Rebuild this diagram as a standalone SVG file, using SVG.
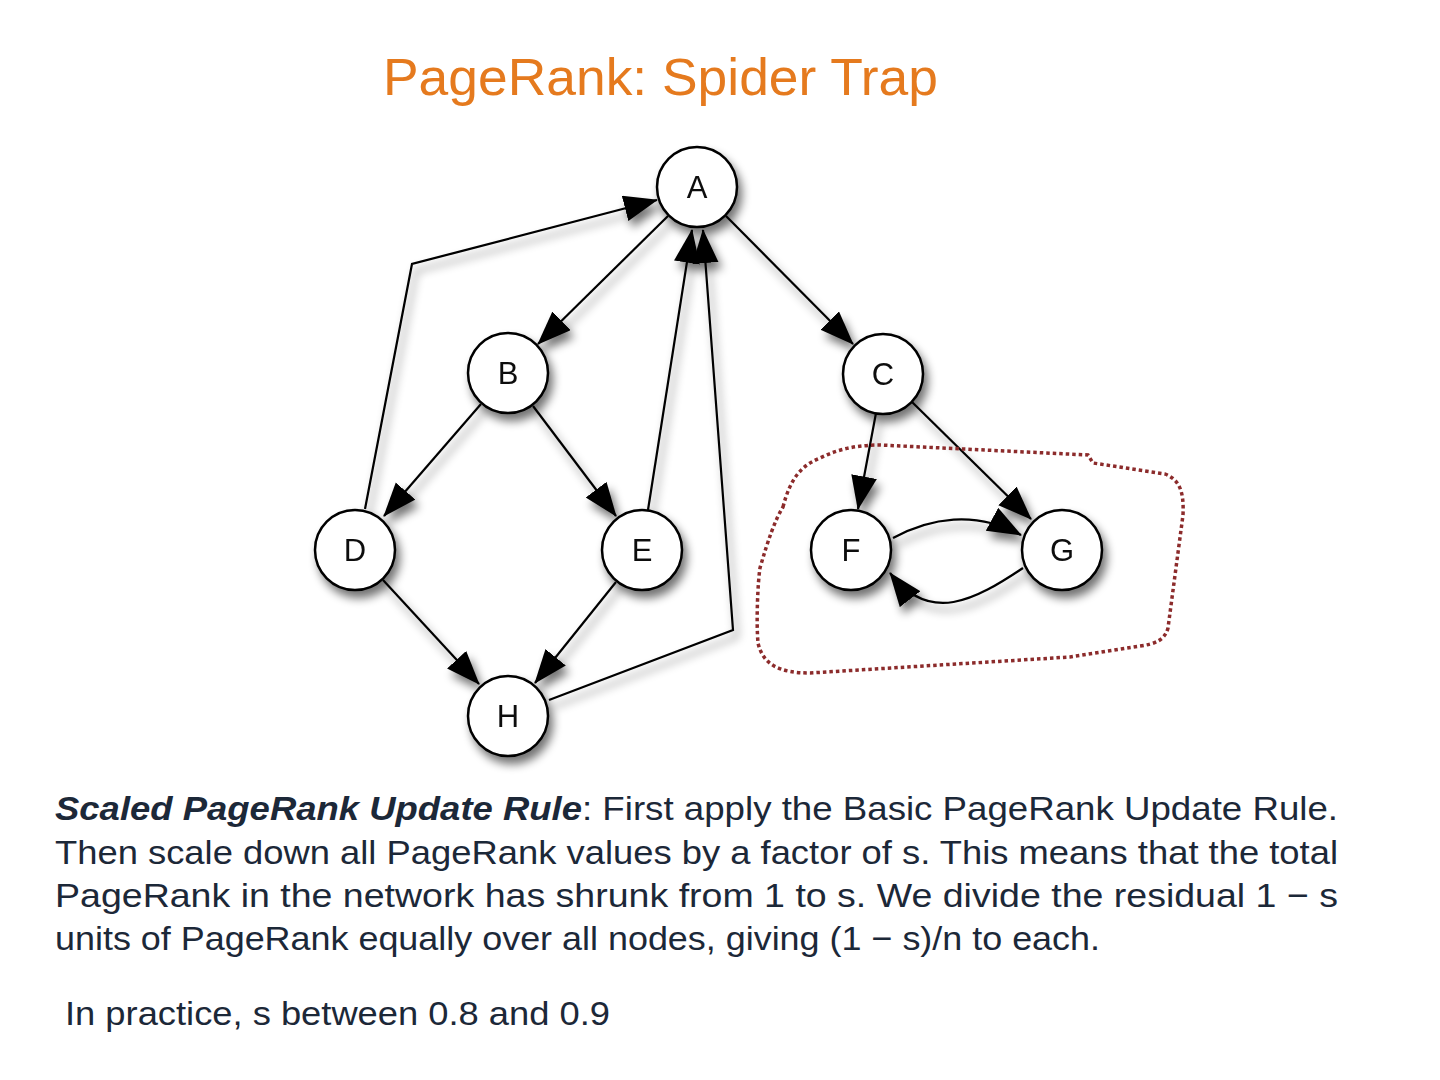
<svg xmlns="http://www.w3.org/2000/svg" width="1440" height="1080" viewBox="0 0 1440 1080">
<style>
.node circle{fill:#fff;stroke:#000;stroke-width:2.5}
.node text{font-family:"Liberation Sans",Arial,sans-serif;font-size:31px;fill:#111;text-anchor:middle}
.edge{fill:none;stroke:#000;stroke-width:2.2}
.body{font-family:"Liberation Sans",Arial,sans-serif;font-size:34px;fill:#1c2838}
</style>
<defs>
<marker id="arr" markerUnits="userSpaceOnUse" markerWidth="36" markerHeight="28" refX="33" refY="13" orient="auto">
<path d="M0,0 L34,13 L0,26 z" fill="#000"/>
</marker>
<filter id="sh" x="-20%" y="-20%" width="140%" height="140%">
<feGaussianBlur in="SourceAlpha" stdDeviation="5"/>
<feOffset dx="4" dy="7" result="b"/>
<feComponentTransfer><feFuncA type="linear" slope="0.55"/></feComponentTransfer>
<feMerge><feMergeNode/><feMergeNode in="SourceGraphic"/></feMerge>
</filter>
</defs>
<rect width="1440" height="1080" fill="#fff"/>
<text x="383" y="95" font-family="Liberation Sans,Arial,sans-serif" font-size="52" fill="#e57a1e" textLength="555" lengthAdjust="spacingAndGlyphs">PageRank: Spider Trap</text>

<g filter="url(#sh)">
<g id="connectors">
<path class="edge" marker-end="url(#arr)" d="M668,216 L538,344"/>
<path class="edge" marker-end="url(#arr)" d="M726,216 L853,344"/>
<path class="edge" marker-end="url(#arr)" d="M481,404 L384,516"/>
<path class="edge" marker-end="url(#arr)" d="M533,406 L616,516"/>
<path class="edge" marker-end="url(#arr)" d="M383,580 L479,684"/>
<path class="edge" marker-end="url(#arr)" d="M616,582 L535,683"/>
<path class="edge" marker-end="url(#arr)" d="M876,413 L858,509"/>
<path class="edge" marker-end="url(#arr)" d="M912,402 L1031,519"/>
<path class="edge" marker-end="url(#arr)" d="M365,509 L412,264 L657,200"/>
<path class="edge" marker-end="url(#arr)" d="M648,510 L692,230"/>
<path class="edge" marker-end="url(#arr)" d="M549,700 L733,630 L703,230"/>
<path class="edge" marker-end="url(#arr)" d="M893,538 C930,518 975,510 1021,535"/>
<path class="edge" marker-end="url(#arr)" d="M1023,568 C975,600 930,625 890,573"/>
</g>
<g id="node-A" class="node"><circle cx="697" cy="187" r="40"/><text x="697" y="198">A</text></g>
<g id="node-B" class="node"><circle cx="508" cy="373" r="40"/><text x="508" y="384">B</text></g>
<g id="node-C" class="node"><circle cx="883" cy="374" r="40"/><text x="883" y="385">C</text></g>
<g id="node-D" class="node"><circle cx="355" cy="550" r="40"/><text x="355" y="561">D</text></g>
<g id="node-E" class="node"><circle cx="642" cy="550" r="40"/><text x="642" y="561">E</text></g>
<g id="node-F" class="node"><circle cx="851" cy="550" r="40"/><text x="851" y="561">F</text></g>
<g id="node-G" class="node"><circle cx="1062" cy="550" r="40"/><text x="1062" y="561">G</text></g>
<g id="node-H" class="node"><circle cx="508" cy="716" r="40"/><text x="508" y="727">H</text></g>
</g>

<path id="trap" d="M783,507 C790,480 800,466 820,458 C840,448 860,445 880,445 L1088,455 L1093,463 L1165,474 C1180,480 1184,492 1183,515 L1168,628 C1165,640 1155,644 1140,646 L1070,657 L810,673 C780,673 763,665 758,643 C756,620 758,580 760,568 C768,540 775,520 783,507 Z" fill="none" stroke="#8c2b2b" stroke-width="3.5" stroke-dasharray="3.5 3"/>

<text class="body" y="820"><tspan x="55" font-weight="bold" font-style="italic" textLength="527" lengthAdjust="spacingAndGlyphs">Scaled PageRank Update Rule</tspan></text>
<text class="body" x="582" y="820" textLength="756" lengthAdjust="spacingAndGlyphs">: First apply the Basic PageRank Update Rule.</text>
<text class="body" x="55" y="864" textLength="1283" lengthAdjust="spacingAndGlyphs">Then scale down all PageRank values by a factor of s. This means that the total</text>
<text class="body" x="55" y="907" textLength="1283" lengthAdjust="spacingAndGlyphs">PageRank in the network has shrunk from 1 to s. We divide the residual 1 − s</text>
<text class="body" x="55" y="950" textLength="1045" lengthAdjust="spacingAndGlyphs">units of PageRank equally over all nodes, giving (1 − s)/n to each.</text>
<text class="body" x="65" y="1025" textLength="545" lengthAdjust="spacingAndGlyphs">In practice, s between 0.8 and 0.9</text>
</svg>
